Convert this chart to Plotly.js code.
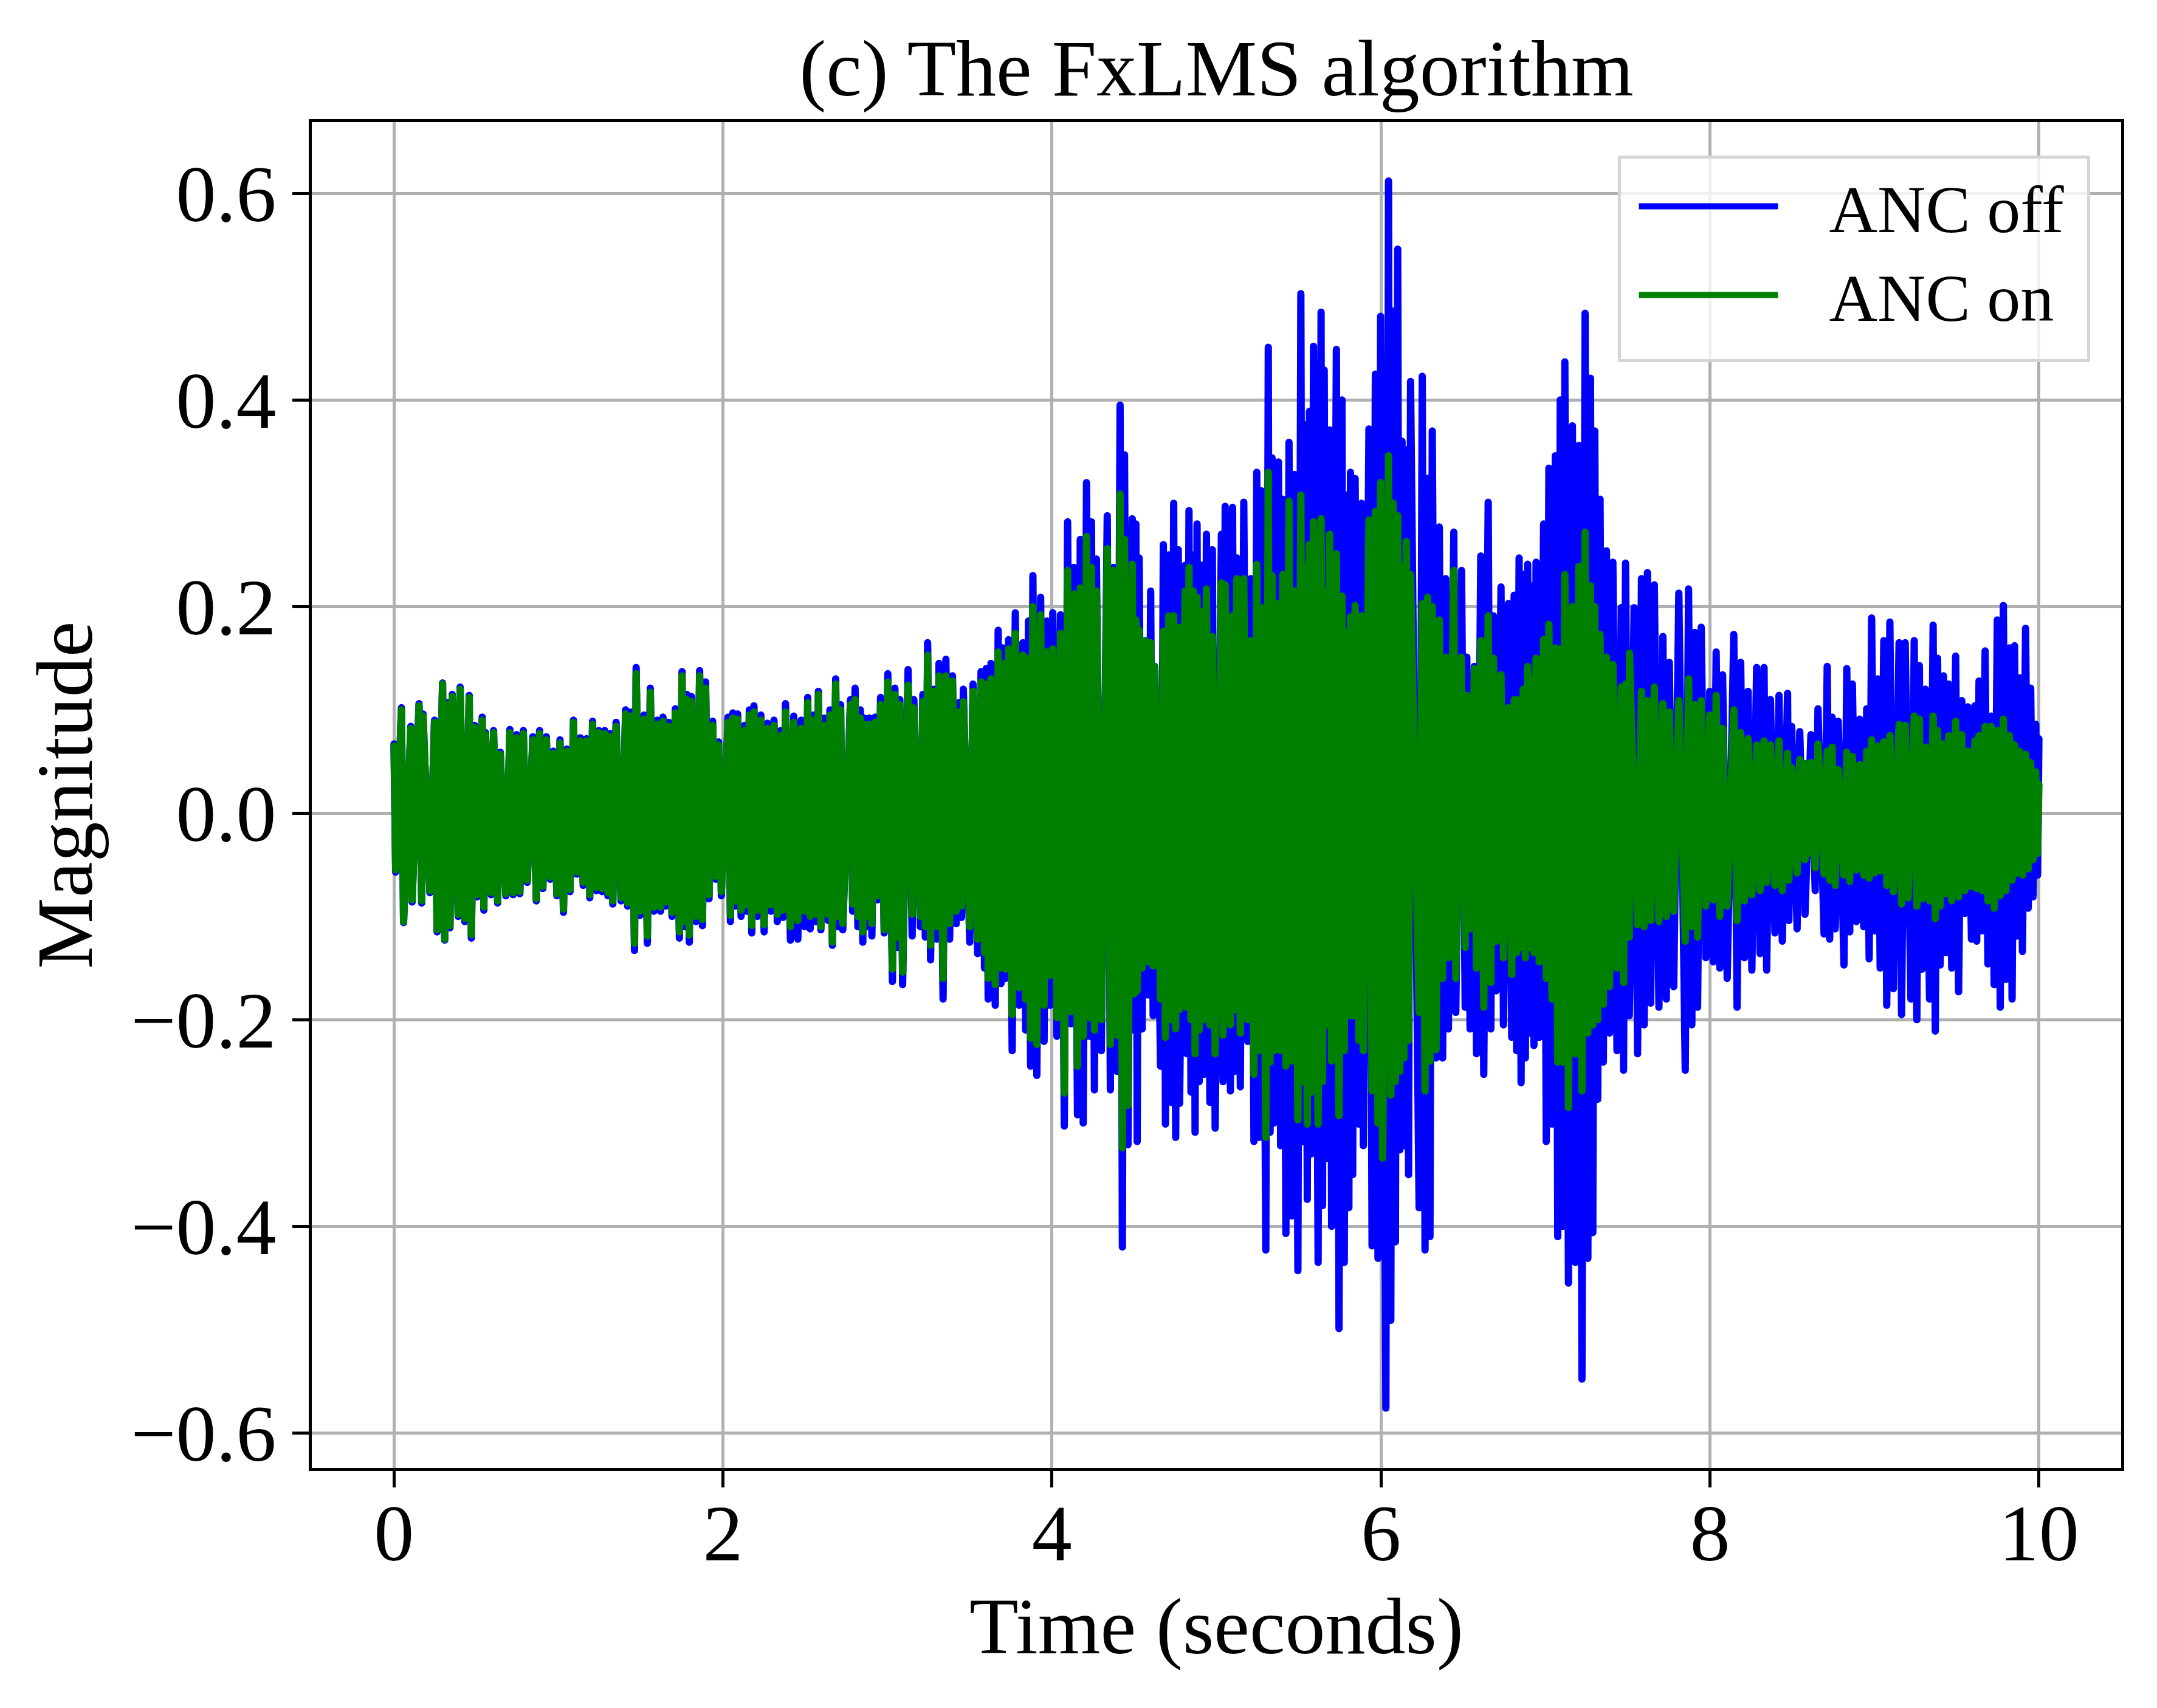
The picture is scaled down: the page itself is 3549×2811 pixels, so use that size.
<!DOCTYPE html>
<html><head><meta charset="utf-8">
<script src="https://cdn.plot.ly/plotly-3.0.1.min.js"></script>
<style>
html,body{margin:0;padding:0;background:#fff;}
#chart{width:3549px;height:2811px;}
.scatterlayer .js-line{stroke-linejoin:round !important;stroke-linecap:round !important;}
</style></head><body><div id="chart"></div>
<script>
// ---- ANC off (blue): positive peaks (time s, magnitude) ----
const offTopT = [0.000,0.045,0.102,0.152,0.176,0.201,0.246,0.295,0.325,0.354,0.402,0.457,0.490,0.536,0.556,0.605,0.646,0.704,0.745,0.786,0.844,0.885,0.926,0.968,1.009,1.050,1.091,1.133,1.170,1.207,1.245,1.281,1.315,1.350,1.408,1.440,1.472,1.520,1.558,1.600,1.635,1.670,1.710,1.751,1.780,1.808,1.858,1.894,1.937,1.973,2.000,2.031,2.060,2.089,2.130,2.160,2.188,2.230,2.270,2.310,2.350,2.380,2.430,2.475,2.515,2.550,2.580,2.615,2.650,2.685,2.715,2.741,2.775,2.803,2.835,2.860,2.890,2.925,2.958,3.002,3.045,3.075,3.125,3.160,3.215,3.244,3.280,3.313,3.355,3.395,3.435,3.461,3.520,3.569,3.600,3.629,3.673,3.700,3.736,3.777,3.823,3.857,3.884,3.931,3.970,4.005,4.052,4.095,4.133,4.172,4.210,4.240,4.270,4.294,4.336,4.374,4.414,4.441,4.488,4.510,4.530,4.567,4.600,4.625,4.677,4.710,4.740,4.768,4.787,4.810,4.833,4.860,4.882,4.910,4.939,4.975,5.008,5.030,5.053,5.098,5.124,5.166,5.208,5.245,5.273,5.315,5.338,5.377,5.403,5.441,5.474,5.513,5.539,5.565,5.590,5.636,5.655,5.688,5.710,5.729,5.763,5.791,5.815,5.843,5.882,5.905,5.927,5.966,5.998,6.046,6.074,6.102,6.128,6.154,6.180,6.212,6.251,6.284,6.312,6.355,6.394,6.420,6.443,6.490,6.522,6.568,6.607,6.652,6.684,6.730,6.775,6.810,6.840,6.865,6.892,6.918,6.943,6.989,7.021,7.060,7.090,7.118,7.164,7.203,7.241,7.274,7.300,7.332,7.371,7.410,7.461,7.487,7.539,7.584,7.620,7.662,7.714,7.753,7.811,7.870,7.908,7.947,7.999,8.038,8.077,8.145,8.187,8.232,8.284,8.329,8.368,8.420,8.472,8.497,8.546,8.614,8.657,8.713,8.743,8.780,8.832,8.866,8.910,8.953,8.983,9.020,9.057,9.094,9.150,9.187,9.242,9.273,9.310,9.357,9.384,9.420,9.451,9.494,9.531,9.568,9.611,9.636,9.673,9.710,9.747,9.784,9.821,9.852,9.882,9.919,9.950,9.981,10.000];
const offTopV = [0.067,0.102,0.084,0.106,0.096,0.069,0.090,0.126,0.107,0.115,0.122,0.114,0.085,0.093,0.078,0.080,0.059,0.081,0.076,0.080,0.074,0.080,0.074,0.060,0.071,0.062,0.090,0.073,0.072,0.089,0.080,0.080,0.077,0.088,0.100,0.098,0.141,0.095,0.121,0.090,0.093,0.088,0.101,0.137,0.115,0.113,0.138,0.127,0.089,0.069,0.072,0.093,0.097,0.096,0.085,0.100,0.104,0.095,0.087,0.090,0.080,0.106,0.094,0.090,0.112,0.095,0.118,0.092,0.100,0.130,0.105,0.107,0.110,0.121,0.100,0.092,0.092,0.093,0.112,0.135,0.121,0.110,0.139,0.110,0.115,0.165,0.120,0.145,0.149,0.133,0.107,0.120,0.125,0.137,0.140,0.145,0.177,0.160,0.168,0.194,0.165,0.186,0.230,0.209,0.186,0.194,0.192,0.282,0.238,0.265,0.320,0.282,0.246,0.235,0.288,0.238,0.395,0.347,0.285,0.280,0.247,0.167,0.215,0.142,0.260,0.250,0.300,0.255,0.195,0.240,0.293,0.250,0.280,0.240,0.270,0.255,0.227,0.270,0.297,0.296,0.247,0.301,0.227,0.330,0.312,0.451,0.344,0.340,0.304,0.359,0.328,0.503,0.376,0.389,0.452,0.485,0.429,0.371,0.400,0.449,0.400,0.308,0.330,0.324,0.300,0.330,0.372,0.425,0.481,0.612,0.486,0.546,0.360,0.352,0.418,0.382,0.423,0.324,0.370,0.277,0.227,0.268,0.272,0.235,0.151,0.142,0.249,0.301,0.191,0.219,0.203,0.211,0.247,0.231,0.241,0.220,0.243,0.280,0.334,0.346,0.400,0.437,0.375,0.356,0.484,0.421,0.370,0.304,0.254,0.243,0.199,0.242,0.199,0.227,0.233,0.221,0.171,0.146,0.213,0.217,0.175,0.180,0.118,0.156,0.134,0.173,0.146,0.118,0.141,0.141,0.110,0.114,0.116,0.084,0.079,0.076,0.101,0.142,0.093,0.089,0.140,0.125,0.091,0.101,0.189,0.130,0.167,0.185,0.165,0.165,0.167,0.143,0.120,0.182,0.150,0.133,0.125,0.152,0.109,0.103,0.104,0.128,0.157,0.094,0.187,0.201,0.160,0.162,0.131,0.179,0.121,0.086,0.072];
// ---- ANC off (blue): negative peaks ----
const offBotT = [0.010,0.058,0.110,0.168,0.218,0.262,0.308,0.340,0.390,0.430,0.470,0.506,0.546,0.590,0.630,0.680,0.724,0.765,0.810,0.865,0.905,0.950,0.990,1.030,1.070,1.112,1.150,1.190,1.230,1.265,1.300,1.330,1.380,1.420,1.462,1.495,1.540,1.580,1.620,1.652,1.690,1.735,1.765,1.795,1.835,1.875,1.915,1.955,1.990,2.045,2.075,2.110,2.145,2.175,2.210,2.250,2.290,2.330,2.365,2.410,2.455,2.497,2.530,2.565,2.595,2.640,2.665,2.700,2.728,2.788,2.820,2.850,2.875,2.905,2.940,2.980,3.030,3.060,3.092,3.150,3.200,3.230,3.262,3.300,3.338,3.378,3.418,3.450,3.500,3.548,3.590,3.612,3.655,3.690,3.718,3.758,3.800,3.840,3.870,3.908,3.952,3.988,4.030,4.075,4.115,4.155,4.190,4.228,4.258,4.300,4.355,4.395,4.428,4.462,4.500,4.518,4.548,4.585,4.615,4.640,4.660,4.690,4.725,4.752,4.776,4.820,4.845,4.870,4.895,4.924,4.960,4.992,5.040,5.085,5.110,5.145,5.190,5.228,5.260,5.300,5.326,5.350,5.390,5.422,5.458,5.495,5.527,5.552,5.575,5.618,5.645,5.670,5.700,5.745,5.777,5.805,5.828,5.865,5.893,5.946,5.982,6.010,6.030,6.060,6.088,6.115,6.140,6.168,6.232,6.268,6.298,6.335,6.375,6.410,6.455,6.478,6.512,6.542,6.581,6.625,6.668,6.700,6.745,6.795,6.825,6.852,6.878,6.905,6.930,6.962,7.005,7.040,7.075,7.105,7.140,7.182,7.222,7.258,7.288,7.318,7.352,7.390,7.435,7.475,7.510,7.560,7.600,7.640,7.690,7.735,7.780,7.825,7.850,7.890,7.925,7.975,8.020,8.060,8.105,8.165,8.210,8.255,8.305,8.345,8.395,8.440,8.480,8.510,8.530,8.578,8.600,8.640,8.694,8.728,8.762,8.815,8.850,8.890,8.935,8.968,9.002,9.035,9.075,9.115,9.165,9.205,9.222,9.258,9.290,9.335,9.370,9.400,9.435,9.470,9.512,9.550,9.590,9.622,9.655,9.690,9.728,9.765,9.800,9.837,9.867,9.900,9.935,9.965,9.992];
const offBotV = [-0.057,-0.106,-0.086,-0.087,-0.077,-0.115,-0.123,-0.111,-0.100,-0.105,-0.121,-0.081,-0.094,-0.079,-0.087,-0.080,-0.079,-0.078,-0.067,-0.085,-0.073,-0.064,-0.080,-0.096,-0.076,-0.059,-0.070,-0.082,-0.075,-0.076,-0.080,-0.088,-0.085,-0.090,-0.133,-0.099,-0.126,-0.095,-0.095,-0.090,-0.100,-0.121,-0.110,-0.125,-0.105,-0.109,-0.083,-0.064,-0.080,-0.105,-0.090,-0.100,-0.095,-0.116,-0.100,-0.115,-0.095,-0.105,-0.101,-0.123,-0.122,-0.110,-0.112,-0.105,-0.113,-0.104,-0.128,-0.110,-0.113,-0.095,-0.110,-0.125,-0.110,-0.119,-0.084,-0.116,-0.163,-0.130,-0.166,-0.119,-0.110,-0.120,-0.142,-0.122,-0.180,-0.122,-0.107,-0.101,-0.125,-0.136,-0.150,-0.180,-0.186,-0.165,-0.160,-0.230,-0.186,-0.210,-0.245,-0.254,-0.221,-0.186,-0.216,-0.303,-0.204,-0.292,-0.300,-0.216,-0.268,-0.230,-0.268,-0.250,-0.420,-0.321,-0.210,-0.318,-0.209,-0.176,-0.196,-0.152,-0.245,-0.301,-0.280,-0.314,-0.281,-0.233,-0.270,-0.309,-0.260,-0.253,-0.280,-0.305,-0.260,-0.269,-0.250,-0.265,-0.221,-0.318,-0.314,-0.423,-0.309,-0.300,-0.322,-0.407,-0.390,-0.443,-0.318,-0.374,-0.330,-0.435,-0.380,-0.334,-0.400,-0.499,-0.435,-0.382,-0.350,-0.301,-0.322,-0.419,-0.431,-0.480,-0.576,-0.491,-0.415,-0.326,-0.322,-0.350,-0.382,-0.423,-0.410,-0.237,-0.237,-0.209,-0.193,-0.180,-0.188,-0.209,-0.233,-0.253,-0.209,-0.172,-0.205,-0.217,-0.230,-0.261,-0.237,-0.213,-0.225,-0.217,-0.318,-0.301,-0.410,-0.400,-0.455,-0.435,-0.548,-0.431,-0.406,-0.277,-0.241,-0.213,-0.230,-0.249,-0.196,-0.233,-0.205,-0.184,-0.188,-0.180,-0.168,-0.193,-0.249,-0.205,-0.188,-0.140,-0.144,-0.150,-0.160,-0.188,-0.140,-0.152,-0.136,-0.152,-0.116,-0.124,-0.104,-0.093,-0.112,-0.098,-0.080,-0.075,-0.117,-0.122,-0.112,-0.147,-0.115,-0.105,-0.110,-0.141,-0.114,-0.150,-0.186,-0.170,-0.195,-0.162,-0.180,-0.200,-0.151,-0.180,-0.211,-0.147,-0.135,-0.150,-0.173,-0.097,-0.122,-0.124,-0.114,-0.146,-0.166,-0.188,-0.161,-0.180,-0.119,-0.134,-0.092,-0.081,-0.060];
// ---- ANC on (green): positive peaks ----
const onTopT = [0.000,0.045,0.102,0.152,0.176,0.201,0.246,0.295,0.325,0.354,0.402,0.457,0.490,0.536,0.556,0.605,0.646,0.704,0.745,0.786,0.844,0.885,0.926,0.968,1.009,1.050,1.091,1.133,1.170,1.207,1.245,1.281,1.315,1.350,1.408,1.440,1.472,1.520,1.558,1.600,1.635,1.670,1.710,1.751,1.780,1.808,1.858,1.894,1.937,1.973,2.000,2.031,2.060,2.089,2.130,2.160,2.188,2.230,2.270,2.310,2.350,2.380,2.430,2.475,2.515,2.550,2.580,2.615,2.650,2.685,2.715,2.741,2.775,2.803,2.835,2.860,2.890,2.925,2.958,3.002,3.045,3.075,3.125,3.160,3.215,3.244,3.280,3.313,3.355,3.395,3.435,3.461,3.520,3.569,3.600,3.629,3.673,3.700,3.736,3.777,3.823,3.857,3.884,3.931,3.970,4.005,4.052,4.095,4.133,4.172,4.210,4.240,4.270,4.294,4.336,4.374,4.414,4.441,4.488,4.510,4.530,4.567,4.600,4.625,4.677,4.710,4.740,4.768,4.787,4.810,4.833,4.860,4.882,4.910,4.939,4.975,5.008,5.030,5.053,5.098,5.124,5.166,5.208,5.245,5.273,5.315,5.338,5.377,5.403,5.441,5.474,5.513,5.539,5.565,5.590,5.636,5.655,5.688,5.729,5.763,5.791,5.815,5.843,5.882,5.905,5.927,5.966,5.998,6.046,6.074,6.102,6.128,6.154,6.180,6.212,6.251,6.284,6.312,6.355,6.394,6.443,6.488,6.522,6.568,6.607,6.652,6.684,6.730,6.775,6.810,6.840,6.865,6.892,6.918,6.943,6.989,7.021,7.060,7.090,7.118,7.164,7.203,7.241,7.274,7.300,7.332,7.371,7.410,7.461,7.487,7.511,7.539,7.584,7.620,7.662,7.714,7.753,7.811,7.870,7.908,7.947,7.999,8.038,8.077,8.110,8.145,8.187,8.232,8.284,8.329,8.368,8.420,8.472,8.497,8.546,8.580,8.614,8.657,8.713,8.743,8.780,8.832,8.866,8.910,8.953,8.983,9.020,9.057,9.094,9.150,9.187,9.242,9.273,9.310,9.357,9.384,9.420,9.451,9.494,9.531,9.568,9.611,9.636,9.673,9.710,9.747,9.784,9.821,9.852,9.882,9.919,9.950,9.981,10.000];
const onTopV = [0.065,0.100,0.082,0.104,0.094,0.067,0.088,0.125,0.105,0.113,0.120,0.112,0.083,0.090,0.076,0.078,0.057,0.078,0.073,0.077,0.071,0.077,0.071,0.058,0.068,0.060,0.088,0.070,0.070,0.086,0.078,0.077,0.074,0.084,0.096,0.094,0.135,0.091,0.117,0.086,0.089,0.084,0.097,0.133,0.110,0.108,0.133,0.121,0.085,0.066,0.070,0.088,0.092,0.091,0.080,0.095,0.098,0.090,0.082,0.085,0.075,0.098,0.088,0.082,0.107,0.090,0.115,0.085,0.095,0.125,0.100,0.100,0.105,0.110,0.092,0.086,0.086,0.088,0.105,0.127,0.115,0.105,0.124,0.102,0.108,0.153,0.118,0.133,0.133,0.128,0.098,0.108,0.118,0.127,0.125,0.130,0.156,0.145,0.159,0.174,0.153,0.150,0.200,0.192,0.156,0.159,0.174,0.235,0.212,0.218,0.268,0.238,0.215,0.200,0.256,0.235,0.309,0.265,0.241,0.187,0.177,0.167,0.165,0.142,0.176,0.191,0.191,0.180,0.187,0.215,0.238,0.215,0.209,0.195,0.217,0.171,0.180,0.223,0.221,0.191,0.227,0.227,0.167,0.241,0.199,0.330,0.230,0.203,0.231,0.302,0.215,0.308,0.239,0.260,0.282,0.285,0.215,0.270,0.251,0.210,0.175,0.190,0.201,0.191,0.230,0.284,0.292,0.320,0.346,0.300,0.288,0.239,0.263,0.231,0.215,0.203,0.209,0.200,0.187,0.151,0.235,0.151,0.114,0.140,0.167,0.191,0.150,0.134,0.102,0.110,0.110,0.120,0.142,0.130,0.150,0.168,0.183,0.160,0.159,0.231,0.200,0.239,0.272,0.220,0.200,0.173,0.151,0.144,0.122,0.125,0.155,0.130,0.118,0.109,0.122,0.106,0.098,0.109,0.130,0.105,0.109,0.095,0.114,0.082,0.085,0.100,0.078,0.072,0.066,0.070,0.066,0.070,0.058,0.044,0.052,0.048,0.049,0.067,0.060,0.064,0.042,0.059,0.055,0.047,0.060,0.071,0.065,0.069,0.075,0.086,0.085,0.094,0.091,0.064,0.094,0.080,0.067,0.075,0.089,0.076,0.060,0.070,0.075,0.084,0.084,0.080,0.091,0.075,0.066,0.060,0.057,0.049,0.040,0.028];
// ---- ANC on (green): negative peaks ----
const onBotT = [0.010,0.058,0.110,0.168,0.218,0.262,0.308,0.340,0.390,0.430,0.470,0.506,0.546,0.590,0.630,0.680,0.724,0.765,0.810,0.865,0.905,0.950,0.990,1.030,1.070,1.112,1.150,1.190,1.230,1.265,1.300,1.330,1.380,1.420,1.462,1.495,1.540,1.580,1.620,1.652,1.690,1.735,1.765,1.795,1.835,1.875,1.915,1.955,1.990,2.045,2.075,2.110,2.145,2.175,2.210,2.250,2.290,2.330,2.365,2.410,2.455,2.497,2.530,2.565,2.595,2.640,2.665,2.700,2.728,2.788,2.820,2.850,2.875,2.905,2.940,2.980,3.030,3.060,3.092,3.150,3.200,3.230,3.262,3.300,3.338,3.378,3.418,3.450,3.500,3.548,3.590,3.612,3.655,3.690,3.718,3.758,3.800,3.840,3.870,3.908,3.952,3.988,4.030,4.075,4.115,4.155,4.190,4.228,4.258,4.300,4.355,4.395,4.428,4.462,4.500,4.518,4.548,4.585,4.615,4.640,4.660,4.690,4.725,4.752,4.776,4.820,4.845,4.870,4.895,4.924,4.960,4.992,5.040,5.085,5.110,5.145,5.190,5.228,5.260,5.300,5.326,5.350,5.390,5.422,5.458,5.495,5.527,5.552,5.575,5.618,5.645,5.670,5.700,5.745,5.777,5.805,5.828,5.865,5.893,5.946,5.982,6.010,6.030,6.060,6.088,6.115,6.140,6.168,6.232,6.268,6.298,6.335,6.375,6.410,6.455,6.478,6.512,6.542,6.581,6.625,6.668,6.700,6.745,6.795,6.825,6.852,6.878,6.905,6.930,6.962,7.005,7.040,7.075,7.105,7.140,7.182,7.222,7.258,7.288,7.318,7.352,7.390,7.435,7.475,7.510,7.560,7.600,7.640,7.690,7.735,7.780,7.825,7.850,7.890,7.925,7.975,8.020,8.060,8.105,8.165,8.210,8.255,8.305,8.345,8.395,8.440,8.480,8.510,8.530,8.578,8.600,8.640,8.694,8.728,8.762,8.815,8.850,8.890,8.935,8.968,9.002,9.035,9.075,9.115,9.165,9.205,9.222,9.258,9.290,9.335,9.370,9.400,9.435,9.470,9.512,9.550,9.590,9.622,9.655,9.690,9.728,9.765,9.800,9.837,9.867,9.900,9.935,9.965,9.992];
const onBotV = [-0.055,-0.105,-0.084,-0.085,-0.075,-0.113,-0.122,-0.109,-0.098,-0.102,-0.118,-0.079,-0.091,-0.077,-0.085,-0.078,-0.077,-0.076,-0.065,-0.083,-0.071,-0.062,-0.078,-0.093,-0.074,-0.057,-0.067,-0.079,-0.072,-0.073,-0.077,-0.085,-0.082,-0.087,-0.126,-0.095,-0.119,-0.091,-0.091,-0.086,-0.096,-0.115,-0.105,-0.118,-0.100,-0.103,-0.079,-0.061,-0.076,-0.099,-0.085,-0.094,-0.089,-0.109,-0.094,-0.108,-0.089,-0.098,-0.094,-0.110,-0.104,-0.095,-0.100,-0.098,-0.110,-0.098,-0.125,-0.100,-0.107,-0.088,-0.100,-0.115,-0.100,-0.107,-0.080,-0.113,-0.151,-0.120,-0.154,-0.098,-0.100,-0.110,-0.128,-0.110,-0.160,-0.107,-0.095,-0.090,-0.110,-0.122,-0.135,-0.160,-0.166,-0.150,-0.151,-0.195,-0.169,-0.180,-0.218,-0.224,-0.186,-0.157,-0.198,-0.271,-0.192,-0.245,-0.216,-0.198,-0.210,-0.200,-0.224,-0.215,-0.324,-0.283,-0.175,-0.172,-0.150,-0.144,-0.148,-0.150,-0.180,-0.217,-0.200,-0.209,-0.190,-0.188,-0.200,-0.233,-0.210,-0.200,-0.205,-0.233,-0.215,-0.205,-0.190,-0.213,-0.200,-0.253,-0.230,-0.314,-0.241,-0.230,-0.230,-0.245,-0.240,-0.297,-0.260,-0.301,-0.270,-0.301,-0.260,-0.205,-0.240,-0.293,-0.230,-0.196,-0.196,-0.220,-0.230,-0.269,-0.300,-0.334,-0.330,-0.273,-0.260,-0.250,-0.237,-0.220,-0.193,-0.269,-0.240,-0.229,-0.160,-0.140,-0.160,-0.136,-0.130,-0.112,-0.150,-0.188,-0.164,-0.124,-0.140,-0.156,-0.135,-0.130,-0.140,-0.130,-0.135,-0.144,-0.160,-0.180,-0.241,-0.241,-0.285,-0.233,-0.269,-0.213,-0.205,-0.200,-0.185,-0.168,-0.150,-0.164,-0.120,-0.108,-0.110,-0.104,-0.105,-0.100,-0.095,-0.104,-0.124,-0.110,-0.120,-0.090,-0.084,-0.100,-0.090,-0.104,-0.085,-0.079,-0.075,-0.067,-0.070,-0.075,-0.065,-0.039,-0.058,-0.045,-0.039,-0.053,-0.059,-0.065,-0.070,-0.060,-0.066,-0.055,-0.060,-0.063,-0.058,-0.056,-0.070,-0.076,-0.088,-0.082,-0.081,-0.090,-0.083,-0.085,-0.102,-0.090,-0.078,-0.085,-0.081,-0.075,-0.071,-0.073,-0.075,-0.085,-0.092,-0.080,-0.075,-0.065,-0.058,-0.060,-0.054,-0.045,-0.039];

// ---- axis ticks ----
const xTickVals = [0, 2, 4, 6, 8, 10];
const xTickText = ['0', '2', '4', '6', '8', '10'];
const yTickVals = [-0.6, -0.4, -0.2, 0.0, 0.2, 0.4, 0.6];
const yTickText = ['\u22120.6', '\u22120.4', '\u22120.2', '0.0', '0.2', '0.4', '0.6'];
const seriesNames = ['ANC off', 'ANC on'];
const seriesColors = ['#0000ff', '#008000'];

// merge positive and negative peaks into one time-ordered waveform,
// keeping strict alternation of sign (a repeated sign keeps the larger peak)
function waveform(tt, tv, bt, bv) {
  const pts = [];
  for (let i = 0; i < tt.length; i++) pts.push([tt[i], tv[i]]);
  for (let i = 0; i < bt.length; i++) pts.push([bt[i], bv[i]]);
  pts.sort((a, b) => a[0] - b[0]);
  const out = [];
  for (const p of pts) {
    const last = out[out.length - 1];
    if (last && Math.sign(last[1]) === Math.sign(p[1])) {
      if (Math.abs(p[1]) > Math.abs(last[1])) out[out.length - 1] = p;
    } else out.push(p);
  }
  return {x: out.map(p => p[0]), y: out.map(p => p[1])};
}

const off = waveform(offTopT, offTopV, offBotT, offBotV);
const on = waveform(onTopT, onTopV, onBotT, onBotV);

const FONT = '"Liberation Serif", "Times New Roman", serif';
const traces = [
  {x: off.x, y: off.y, type: 'scatter', mode: 'lines', name: seriesNames[0], legendgroup: 'g1',
   line: {color: seriesColors[0], width: 12}},
  {x: on.x, y: on.y, type: 'scatter', mode: 'lines', name: seriesNames[1], legendgroup: 'g2',
   line: {color: seriesColors[1], width: 12}}
];

const axisCommon = {
  ticks: 'outside', ticklen: 27, tickwidth: 5, tickcolor: '#000',
  showline: true, linecolor: '#000', linewidth: 5, mirror: true,
  showgrid: true, gridcolor: '#b0b0b0', gridwidth: 5, zeroline: false,
  tickfont: {family: FONT, size: 132, color: '#000'},
  tickmode: 'array', automargin: false
};

const layout = {
  width: 3549, height: 2811,
  margin: {l: 513, r: 59, t: 201, b: 395, pad: 0},
  paper_bgcolor: '#ffffff', plot_bgcolor: '#ffffff',
  font: {family: FONT, size: 132, color: '#000'},
  title: {text: '(c) The FxLMS algorithm', font: {family: FONT, size: 132, color: '#000'},
          x: 0.5, xref: 'paper', xanchor: 'center', y: 0.9441, yref: 'container', yanchor: 'bottom'},
  xaxis: Object.assign({}, axisCommon, {
    range: [-0.5, 10.5], tickvals: xTickVals, ticktext: xTickText, ticklabelstandoff: -38,
    title: {text: 'Time (seconds)', font: {family: FONT, size: 132, color: '#000'}, standoff: 34}
  }),
  yaxis: Object.assign({}, axisCommon, {
    range: [-0.634, 0.669], tickvals: yTickVals, ticktext: yTickText,
    title: {text: 'Magnitude', font: {family: FONT, size: 132, color: '#000'}, standoff: 20}
  }),
  showlegend: true,
  legend: {x: 0.7217, xanchor: 'left', y: 0.975, yanchor: 'top', traceorder: 'normal',
           bgcolor: 'rgba(255,255,255,0.8)', bordercolor: '#d5d5d5', borderwidth: 5,
           font: {family: FONT, size: 110, color: '#000'}, itemwidth: 333, tracegroupgap: 13}
};

Plotly.newPlot('chart', traces, layout, {displayModeBar: false, staticPlot: true}).then(function () {
  // legend samples: a 229 px line, starting 30 px into the item
  document.querySelectorAll('.legend .legendlines path').forEach(function (p) {
    p.setAttribute('d', 'M30,0h229');
  });
  // a little more inner padding on the right and bottom of the legend frame
  document.querySelectorAll('.legend rect.bg').forEach(function (r) {
    r.setAttribute('width', (parseFloat(r.getAttribute('width')) + 32).toString());
    r.setAttribute('height', (parseFloat(r.getAttribute('height')) + 28).toString());
  });
});
</script>
</body></html>
